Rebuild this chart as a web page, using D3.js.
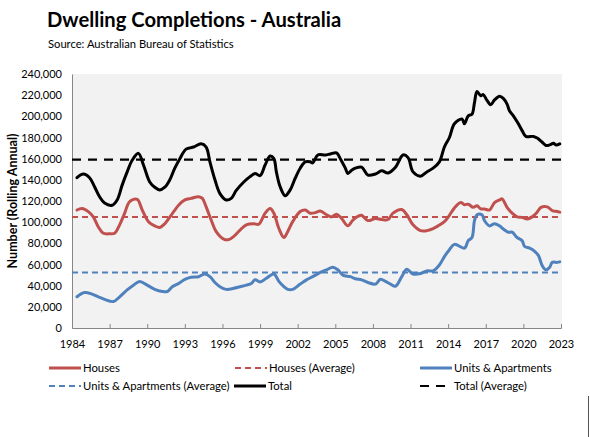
<!DOCTYPE html>
<html>
<head>
<meta charset="utf-8">
<script src="https://cdn.jsdelivr.net/npm/d3@7"></script>
<style>
  html, body { margin: 0; padding: 0; background: #fff; }
  svg { display: block; font-family: Lato, "Open Sans", sans-serif; }
</style>
</head>
<body>
<svg id="chart" width="590" height="437"></svg>
<script>
// ---- Data (values in thousands, decimal years) ----
const totalYears = [1984.4,1984.9,1985.4,1985.8,1986.2,1986.6,1987.2,1987.6,1988.0,1988.4,1988.8,1989.3,1989.7,1990.2,1990.6,1991.0,1991.4,1991.8,1992.2,1992.6,1993.1,1993.7,1994.3,1994.7,1995.0,1995.4,1995.8,1996.3,1996.7,1997.1,1997.7,1998.2,1998.6,1999.0,1999.4,1999.8,2000.1,2000.3,2000.6,2001.0,2001.4,2001.8,2002.2,2002.6,2003.0,2003.2,2003.6,2004.2,2004.6,2005.1,2005.4,2005.8,2006.0,2006.3,2006.6,2007.1,2007.6,2008.2,2008.7,2009.2,2009.8,2010.4,2010.8,2011.2,2011.8,2012.3,2012.8,2013.3,2013.7,2014.1,2014.5,2015.1,2015.3,2015.6,2015.9,2016.1,2016.3,2016.6,2016.8,2017.1,2017.4,2017.7,2018.1,2018.4,2018.7,2018.9,2019.2,2019.6,2019.9,2020.2,2020.8,2021.1,2021.5,2021.8,2022.1,2022.4,2022.6,2022.9];
const totalValues = [142,145.5,142,133.5,124,118,116,121,135,147.5,158.5,165,154,138,133,130.5,133,140,151,160,169,171,174,171,157,140,127,121,122.5,130,138,143,146,144,154,162.5,160,147.5,133.5,125,130.5,141.5,151,157,157,156,163.5,163.5,164.5,165.5,160,151,146,149,151,152,144.5,145.5,148.5,146.5,152,163.5,161,147.5,143.5,147.5,151,157,171,180,193,197.5,193,200.5,202,213,223.5,219.5,220.5,215,211,215.5,219,217,211.5,205,200.5,193,186.5,181,181,179.5,175.5,172.5,173,174.5,173,174];

const housesYears = [1984.4,1984.8,1985.3,1985.7,1986.1,1986.5,1987.0,1987.4,1987.8,1988.2,1988.6,1989.2,1989.6,1990.1,1990.6,1991.0,1991.4,1991.9,1992.5,1993.0,1993.5,1994.1,1994.4,1994.7,1995.1,1995.5,1996.1,1996.5,1996.9,1997.4,1997.9,1998.5,1998.9,1999.4,1999.8,2000.1,2000.5,2000.9,2001.2,2001.6,2002.2,2002.6,2003.0,2003.4,2003.8,2004.3,2004.7,2005.1,2005.5,2006.0,2006.4,2006.8,2007.1,2007.6,2008.2,2008.7,2009.2,2009.6,2010.3,2010.7,2011.2,2011.8,2012.3,2012.8,2013.2,2013.7,2014.1,2014.5,2015.0,2015.3,2015.6,2016.0,2016.3,2016.6,2016.9,2017.3,2017.7,2018.1,2018.3,2018.7,2019.1,2019.5,2019.9,2020.3,2020.7,2021.1,2021.4,2021.9,2022.3,2022.7,2022.9];
const housesValues = [111.5,113,110,105,95.5,89.5,89,89.5,97.5,108.5,119.5,121.5,111.5,100.5,96.5,95,98.5,106.5,116,121,122.5,124,122.5,114.5,102,91,84,83.5,86.5,92.5,97.5,98.5,98,108.5,113,108.5,94,85.5,91,100.5,110,111.5,108.5,109,110.5,107,105,107.5,103.5,96.5,102,105.5,106.5,101.5,103.5,102.5,102.5,108.5,112,107,97.5,92,92,94,96.5,100.5,106.5,113.5,118.5,116.5,117,114,115.5,112.5,112.5,111.5,118.5,121,122,114,108.5,105,104.5,103,105,109.5,114,114.5,111,110,109.5];

const unitsYears = [1984.4,1985.0,1985.6,1986.1,1986.6,1987.3,1987.8,1988.4,1988.9,1989.4,1990.0,1990.6,1991.2,1991.6,1992.0,1992.5,1993.0,1993.5,1994.1,1994.6,1995.0,1995.4,1995.8,1996.3,1996.9,1997.4,1997.9,1998.3,1998.6,1999.0,1999.5,2000.1,2000.5,2000.9,2001.2,2001.6,2002.2,2002.7,2003.2,2003.8,2004.3,2004.8,2005.2,2005.6,2006.2,2006.6,2007.1,2007.6,2008.2,2008.6,2009.0,2009.4,2009.8,2010.3,2010.7,2011.2,2011.8,2012.3,2012.8,2013.3,2013.7,2014.1,2014.5,2015.3,2015.6,2015.9,2016.1,2016.3,2016.7,2016.9,2017.3,2017.7,2018.1,2018.4,2018.8,2019.1,2019.5,2019.9,2020.1,2020.5,2020.9,2021.2,2021.5,2021.8,2022.1,2022.3,2022.7,2022.9];
const unitsValues = [29.5,33.5,32,29.5,27,25,29.5,36,40.5,44,40.5,36.5,34.5,34.5,39,42,46,48,48.5,51,48.5,43,39,36.5,37.5,39,40.5,42,45.5,43.5,47,51,44,39,36.5,36.5,41.5,45.5,48.5,52.5,55,57.5,55,50,48.5,46.5,45.5,43,41.5,46,44,41.5,39.5,48.5,55.5,51,51.5,54,54,59.5,67.5,74,79,75.5,82.5,85.5,101.5,107,107,101.5,96.5,98.5,96.5,93.5,90.5,90.5,85.5,82.5,77,75.5,72.5,68.5,59,55,57.5,62,62,62.5];

const averages = { houses: 105, units: 52.5, total: 159 };

const xTicks = [1984,1987,1990,1993,1996,1999,2002,2005,2008,2011,2014,2017,2020,2023];
const yTicks = [0,20,40,60,80,100,120,140,160,180,200,220,240];

const titleText = "Dwelling Completions - Australia";
const subtitleText = "Source: Australian Bureau of Statistics";
const yAxisTitle = "Number (Rolling Annual)";

// ---- Layout ----
const svg = d3.select("#chart");
const plot = { left: 72, right: 562, top: 74, bottom: 328 };
const red = "#C0504D", blue = "#4F81BD", black = "#000000";

const x = d3.scaleLinear().domain([1984, 2023]).range([plot.left, plot.right - 1]);
const y = d3.scaleLinear().domain([0, 240]).range([plot.bottom, plot.top]);

svg.append("text").attr("x", 47).attr("y", 27)
  .attr("font-size", 20.2).attr("font-weight", "bold").attr("fill", "#000").text(titleText);
svg.append("text").attr("x", 48).attr("y", 48)
  .attr("font-size", 11.2).attr("fill", "#000").text(subtitleText);

svg.append("rect").attr("x", plot.left).attr("y", plot.top)
  .attr("width", plot.right - plot.left).attr("height", plot.bottom - plot.top)
  .attr("fill", "#F2F2F2");

// Y axis
const yAxis = d3.axisLeft(y).tickValues(yTicks).tickSize(0).tickPadding(10)
  .tickFormat(d => d3.format(",")(d * 1000));
const gy = svg.append("g").attr("transform", `translate(${plot.left},0)`).call(yAxis);
gy.select(".domain").attr("stroke", "#868686");
gy.selectAll("text").attr("font-size", 11).attr("font-family", "Lato, sans-serif").attr("fill", "#000");

// X axis
const xAxis = d3.axisBottom(x).tickValues(xTicks).tickSize(-4).tickPadding(12).tickFormat(d3.format("d"));
const gx = svg.append("g").attr("transform", `translate(0,${plot.bottom})`).call(xAxis);
gx.select(".domain").attr("stroke", "#868686");
gx.selectAll(".tick line").attr("stroke", "#868686");
gx.selectAll("text").attr("font-size", 11).attr("font-family", "Lato, sans-serif").attr("fill", "#000");

svg.append("text")
  .attr("transform", `translate(17,${(plot.top + plot.bottom) / 2}) rotate(-90)`)
  .attr("text-anchor", "middle").attr("font-size", 12.5).attr("font-weight", "bold")
  .text(yAxisTitle);

// Average lines
const avgLine = (val, color, dash, width) =>
  svg.append("line").attr("x1", x(1984)).attr("x2", x(2023))
    .attr("y1", y(val)).attr("y2", y(val))
    .attr("stroke", color).attr("stroke-width", width).attr("stroke-dasharray", dash);

avgLine(averages.houses, red, "6,4", 2);
avgLine(averages.units, blue, "6,4", 2);
avgLine(averages.total, black, "9,7", 2.25);

// Series lines
const line = d3.line().x(d => x(d[0])).y(d => y(d[1])).curve(d3.curveCatmullRom.alpha(0.5));
const drawSeries = (years, values, color) =>
  svg.append("path").datum(years.map((yr, i) => [yr, values[i]]))
    .attr("d", line).attr("fill", "none").attr("stroke", color)
    .attr("stroke-width", 3).attr("stroke-linejoin", "round").attr("stroke-linecap", "round");

drawSeries(housesYears, housesValues, red);
drawSeries(unitsYears, unitsValues, blue);
drawSeries(totalYears, totalValues, black);

// Legend
const legendItems = [
  { label: "Houses", color: red, dash: null, x: 49, y: 368 },
  { label: "Houses (Average)", color: red, dash: "6,4", x: 235, y: 368 },
  { label: "Units & Apartments", color: blue, dash: null, x: 420, y: 368 },
  { label: "Units & Apartments (Average)", color: blue, dash: "6,4", x: 49, y: 386 },
  { label: "Total", color: black, dash: null, x: 234, y: 386 },
  { label: "Total (Average)", color: black, dash: "9,7", x: 420, y: 386 }
];
const lg = svg.append("g");
legendItems.forEach(it => {
  lg.append("line").attr("x1", it.x).attr("x2", it.x + 32).attr("y1", it.y).attr("y2", it.y)
    .attr("stroke", it.color).attr("stroke-width", it.dash ? 2 : 3)
    .attr("stroke-dasharray", it.dash);
  lg.append("text").attr("x", it.x + 34).attr("y", it.y).attr("dy", "0.35em")
    .attr("font-size", 11.3).text(it.label);
});

// chart border fragment at right
svg.append("line").attr("x1", 588.5).attr("x2", 588.5).attr("y1", 396).attr("y2", 437)
  .attr("stroke", "#555").attr("stroke-width", 1);
</script>
</body>
</html>
